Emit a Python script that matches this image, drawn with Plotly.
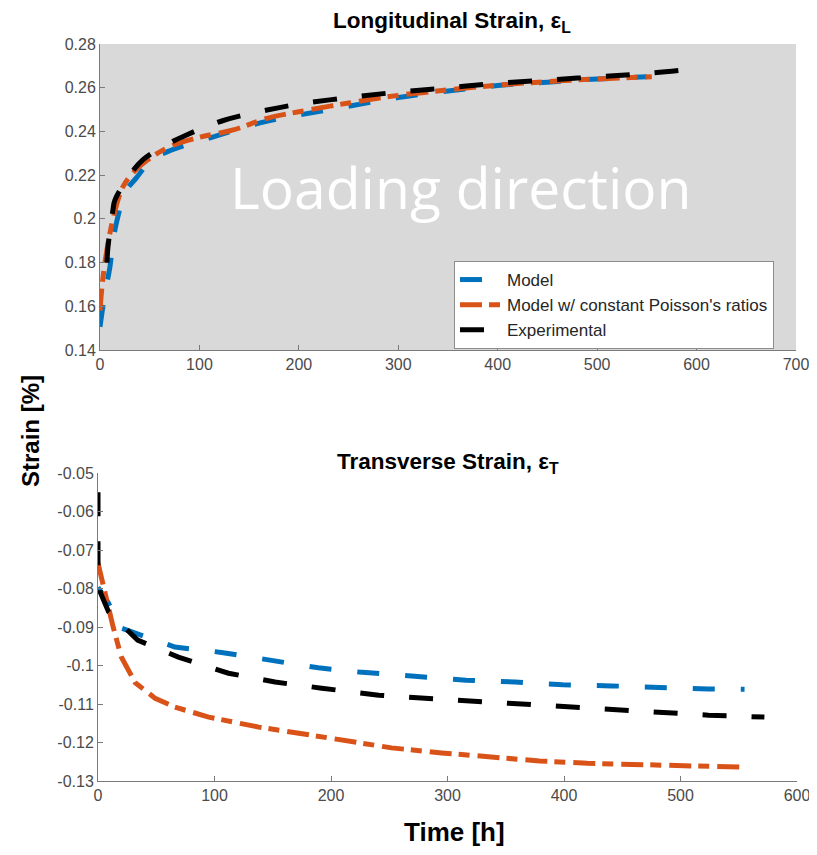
import plotly.graph_objects as go

# ---------------- data ----------------
# Longitudinal strain (top)
top_model_x = [0, 5, 10, 13, 18, 25, 37, 52, 72, 114, 161, 200, 250, 300, 350, 400, 450, 500, 550]
top_model_y = [0.1506, 0.166, 0.178, 0.190, 0.201, 0.212, 0.219, 0.227, 0.2315, 0.2375, 0.2439,
               0.2475, 0.2515, 0.2555, 0.2585, 0.2610, 0.2625, 0.2640, 0.2650]
top_const_x = [0, 2, 5, 10, 17, 23, 33, 48, 70, 97, 134, 168, 200, 250, 300, 350, 400, 450, 500, 555]
top_const_y = [0.158, 0.169, 0.180, 0.1935, 0.207, 0.2146, 0.221, 0.227, 0.233, 0.237, 0.2407, 0.246,
               0.2490, 0.2530, 0.2565, 0.2590, 0.2612, 0.2628, 0.2640, 0.2650]
top_exp_x = [7, 8, 13, 15, 30, 43, 70, 87, 124, 168, 200, 250, 300, 350, 400, 450, 500, 550, 607]
top_exp_y = [0.180, 0.187, 0.204, 0.2086, 0.220, 0.227, 0.2347, 0.2384, 0.245, 0.2498,
             0.2525, 0.2555, 0.2580, 0.2600, 0.2620, 0.2635, 0.2650, 0.2665, 0.2690]

# Transverse strain (bottom)
bot_model_x = [0, 9, 20, 66, 106, 147, 189, 224, 273, 316, 358, 399, 441, 482, 524, 555]
bot_model_y = [-0.0797, -0.0838, -0.0903, -0.0952, -0.0966, -0.0986, -0.1006, -0.1017, -0.1027,
               -0.1038, -0.1043, -0.1050, -0.1053, -0.1058, -0.1061, -0.1062]
bot_const_x = [0, 6, 13, 20, 32, 49, 66, 95, 138, 181, 252, 295, 337, 379, 420, 462, 504, 552]
bot_const_y = [-0.0734, -0.0812, -0.0900, -0.0978, -0.1045, -0.1085, -0.1108, -0.1134, -0.1160,
               -0.1180, -0.1214, -0.1227, -0.1238, -0.1248, -0.1254, -0.1258, -0.1261, -0.1264]
bot_exp_x = [0, 0, 2, 9, 34, 69, 112, 152, 192, 241, 274, 316, 357, 399, 441, 482, 524, 572]
bot_exp_y = [-0.055, -0.0745, -0.081, -0.086, -0.0934, -0.0978, -0.1020, -0.1043, -0.1059, -0.1077,
             -0.1084, -0.1092, -0.1100, -0.1108, -0.1115, -0.1124, -0.1129, -0.1134]

series_names = ["Model", "Model w/ constant Poisson's ratios", "Experimental"]
top_xticks = [0, 100, 200, 300, 400, 500, 600, 700]
top_yticks = [0.14, 0.16, 0.18, 0.20, 0.22, 0.24, 0.26, 0.28]
top_yticktext = ["0.14", "0.16", "0.18", "0.2", "0.22", "0.24", "0.26", "0.28"]
bot_xticks = [0, 100, 200, 300, 400, 500, 600]
bot_yticks = [-0.13, -0.12, -0.11, -0.10, -0.09, -0.08, -0.07, -0.06, -0.05]
bot_yticktext = ["-0.13", "-0.12", "-0.11", "-0.1", "-0.09", "-0.08", "-0.07", "-0.06", "-0.05"]

BLUE = "#0072BD"
ORANGE = "#D95319"
BLACK = "#000000"
W = 5
dash_model = "22px,26px"
dash_const = "22px,7px,11px,8px"
dash_exp = "24px,25px"

FONT = "Liberation Sans, Arial, sans-serif"

# figure is sized so that page (with 8px body margin) fills the 817x855 window
FW, FH = 801, 839
OFF = 8


def px(x):
    return (x - OFF) / FW


def py(y):
    return 1 - (y - OFF) / FH


fig = go.Figure()

styles = [(BLUE, dash_model), (ORANGE, dash_const), (BLACK, dash_exp)]
top_data = [(top_model_x, top_model_y), (top_const_x, top_const_y), (top_exp_x, top_exp_y)]
bot_data = [(bot_model_x, bot_model_y), (bot_const_x, bot_const_y), (bot_exp_x, bot_exp_y)]

for (x, y), (c, d), n in zip(top_data, styles, series_names):
    fig.add_trace(go.Scatter(x=x, y=y, mode="lines", name=n, line=dict(color=c, width=W, dash=d),
                             xaxis="x", yaxis="y", line_shape="spline"))
for (x, y), (c, d), n in zip(bot_data, styles, series_names):
    fig.add_trace(go.Scatter(x=x, y=y, mode="lines", name=n, showlegend=False,
                             line=dict(color=c, width=W, dash=d), xaxis="x2", yaxis="y2"))

axis_common = dict(showline=True, linecolor="#7a7a7a", linewidth=1, ticks="inside", ticklen=5,
                   tickcolor="#7a7a7a", showgrid=False, zeroline=False, automargin=False,
                   ticklabeloverflow="allow",
                   tickfont=dict(family=FONT, size=16, color="#4a4a4a"))

fig.update_layout(
    width=FW, height=FH,
    margin=dict(l=0, r=0, t=0, b=0, pad=0),
    paper_bgcolor="white",
    plot_bgcolor="white",
    showlegend=True,
    xaxis=dict(domain=[px(100), px(796)], range=[0, 700], tickvals=top_xticks, anchor="y", **axis_common),
    yaxis=dict(domain=[py(350), py(44)], range=[0.14, 0.28], tickvals=top_yticks,
               ticktext=top_yticktext, anchor="x", **axis_common),
    xaxis2=dict(domain=[px(98), px(797)], range=[0, 600], tickvals=bot_xticks, anchor="y2", **axis_common),
    yaxis2=dict(domain=[py(781), py(473)], range=[-0.13, -0.05], tickvals=bot_yticks,
                ticktext=bot_yticktext, anchor="x2", **axis_common),
    legend=dict(x=px(454), y=py(261), xanchor="left", yanchor="top", bgcolor="white",
                bordercolor="#8c8c8c", borderwidth=1, font=dict(family=FONT, size=17, color="#262626"),
                itemwidth=42, tracegroupgap=0),
    shapes=[dict(type="rect", xref="x", yref="y", x0=0, x1=700, y0=0.14, y1=0.28,
                 fillcolor="#d9d9d9", line=dict(width=0), layer="below")],
    annotations=[
        dict(text="<b>Longitudinal Strain, ε<sub>L</sub></b>", x=px(452), y=py(22), xref="paper", yref="paper",
             showarrow=False, font=dict(family=FONT, size=22.5, color="black"), xanchor="center", yanchor="middle"),
        dict(text="<b>Transverse Strain, ε<sub>T</sub></b>", x=px(448), y=py(463), xref="paper", yref="paper",
             showarrow=False, font=dict(family=FONT, size=22.5, color="black"), xanchor="center", yanchor="middle"),
        dict(text="Loading direction", x=px(461), y=py(187), xref="paper", yref="paper", showarrow=False,
             font=dict(family="Open Sans, sans-serif", size=57, color="white"), xanchor="center", yanchor="middle"),
        dict(text="<b>Strain [%]</b>", x=px(30), y=py(431), xref="paper", yref="paper", showarrow=False,
             textangle=-90, font=dict(family=FONT, size=24, color="black"), xanchor="center", yanchor="middle"),
        dict(text="<b>Time [h]</b>", x=px(454), y=py(832), xref="paper", yref="paper", showarrow=False,
             font=dict(family=FONT, size=26, color="black"), xanchor="center", yanchor="middle"),
    ],
)

fig.write_html("out.html")
